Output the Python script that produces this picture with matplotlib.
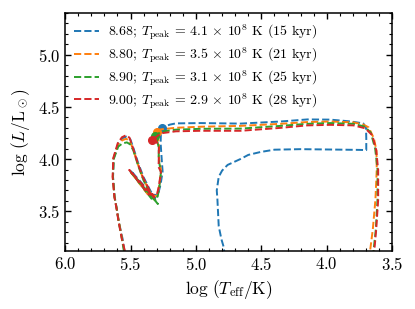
import matplotlib
matplotlib.use("Agg")
import matplotlib.pyplot as plt
from matplotlib.ticker import MultipleLocator

plt.rcParams['font.family'] = 'serif'
plt.rcParams['font.serif'] = ['cmr10']
plt.rcParams['mathtext.fontset'] = 'cm'
plt.rcParams['axes.formatter.use_mathtext'] = True
plt.rcParams['axes.unicode_minus'] = False

# tracks: log Teff, log L
labels = [
    r'8.68; $T_{\rm peak}\,=\,4.1\,\times\,10^8$ K (15 kyr)',
    r'8.80; $T_{\rm peak}\,=\,3.5\,\times\,10^8$ K (21 kyr)',
    r'8.90; $T_{\rm peak}\,=\,3.1\,\times\,10^8$ K (25 kyr)',
    r'9.00; $T_{\rm peak}\,=\,2.9\,\times\,10^8$ K (28 kyr)',
]
colors = ['#1f77b4', '#ff7f0e', '#2ca02c', '#d62728']

# 8.68: loop, upper plateau, drop to 4.1 then back left and down
x_868 = [5.535, 5.560, 5.590, 5.604, 5.622, 5.634, 5.628, 5.594, 5.562, 5.530,
         5.502, 5.478, 5.440, 5.400, 5.350, 5.312, 5.500, 5.350, 5.290, 5.270,
         5.255, 5.262, 5.270, 5.268, 5.261,
         5.200, 5.154, 4.963, 4.659, 4.354, 4.148, 3.973, 3.820, 3.721, 3.700,
         3.698, 3.698, 3.750, 4.000, 4.201, 4.400, 4.506, 4.600, 4.659, 4.758,
         4.800, 4.826, 4.841, 4.836, 4.826, 4.805, 4.788, 4.775]
y_868 = [3.020, 3.230, 3.400, 3.515, 3.640, 3.830, 4.010, 4.150, 4.200, 4.215,
         4.190, 4.105, 3.955, 3.825, 3.700, 3.625, 3.890, 3.650, 3.660, 3.760,
         3.880, 4.000, 4.150, 4.250, 4.301,
         4.330, 4.342, 4.345, 4.340, 4.360, 4.380, 4.378, 4.361, 4.342, 4.300,
         4.200, 4.086, 4.088, 4.092, 4.095, 4.090, 4.068, 4.040, 4.001, 3.944,
         3.890, 3.830, 3.700, 3.612, 3.356, 3.230, 3.157, 3.020]

x_880 = [5.533, 5.564, 5.590, 5.605, 5.623, 5.636, 5.630, 5.596, 5.564, 5.533,
         5.506, 5.482, 5.444, 5.406, 5.355, 5.316, 5.505, 5.355, 5.297, 5.282,
         5.266, 5.284, 5.282, 5.290, 5.301,
         5.268, 5.154, 4.963, 4.659, 4.354, 4.148, 3.973, 3.797, 3.720, 3.680,
         3.640, 3.620, 3.618, 3.628, 3.648, 3.668, 3.676]
y_880 = [3.020, 3.232, 3.403, 3.517, 3.640, 3.830, 4.010, 4.140, 4.180, 4.195,
         4.170, 4.100, 3.950, 3.820, 3.690, 3.610, 3.885, 3.640, 3.650, 3.740,
         3.880, 4.020, 4.130, 4.220, 4.257,
         4.285, 4.300, 4.310, 4.318, 4.338, 4.355, 4.360, 4.352, 4.330, 4.304,
         4.200, 4.080, 3.900, 3.612, 3.327, 3.128, 3.020]

x_890 = [5.538, 5.566, 5.591, 5.605, 5.623, 5.635, 5.629, 5.594, 5.562, 5.528,
         5.502, 5.478, 5.440, 5.402, 5.350, 5.300, 5.291, 5.500, 5.340, 5.293,
         5.280, 5.268, 5.285, 5.284, 5.300, 5.314,
         5.268, 5.154, 4.963, 4.659, 4.354, 4.148, 3.973, 3.797, 3.712, 3.664,
         3.630, 3.612, 3.612, 3.625, 3.642, 3.655]
y_890 = [3.020, 3.232, 3.403, 3.517, 3.640, 3.830, 4.000, 4.120, 4.150, 4.160,
         4.140, 4.080, 3.930, 3.800, 3.670, 3.590, 3.570, 3.880, 3.620, 3.640,
         3.730, 3.870, 4.000, 4.110, 4.190, 4.219,
         4.262, 4.282, 4.290, 4.292, 4.318, 4.338, 4.345, 4.338, 4.312, 4.255,
         4.100, 3.900, 3.612, 3.327, 3.128, 3.020]

x_900 = [5.531, 5.543, 5.566, 5.592, 5.606, 5.624, 5.637, 5.632, 5.598, 5.566,
         5.535, 5.508, 5.484, 5.446, 5.408, 5.357, 5.319, 5.510, 5.360, 5.299,
         5.284, 5.268, 5.286, 5.284, 5.284, 5.306, 5.337,
         5.268, 5.154, 4.963, 4.659, 4.354, 4.148, 3.973, 3.797, 3.706, 3.652,
         3.622, 3.607, 3.607, 3.622, 3.637, 3.645]
y_900 = [3.024, 3.118, 3.232, 3.403, 3.517, 3.640, 3.830, 4.010, 4.152, 4.209,
         4.228, 4.205, 4.117, 3.963, 3.833, 3.707, 3.631, 3.896, 3.659, 3.659,
         3.735, 3.877, 3.925, 4.020, 4.124, 4.181, 4.181,
         4.247, 4.266, 4.271, 4.271, 4.299, 4.323, 4.328, 4.323, 4.295, 4.228,
         4.086, 3.896, 3.612, 3.327, 3.118, 3.024]

# marker = start of the upper plateau
mark_x = [5.261, 5.301, 5.314, 5.337]
mark_y = [4.301, 4.257, 4.219, 4.181]

tracks = [(x_868, y_868), (x_880, y_880), (x_890, y_890), (x_900, y_900)]

fig = plt.figure(figsize=(4.15, 3.09), dpi=100)
ax = fig.add_axes([0.157, 0.188, 0.788, 0.770])

for (tx, ty), c, lab, mx, my in zip(tracks, colors, labels, mark_x, mark_y):
    ax.plot(tx, ty, ls='--', lw=1.4, color=c, label=lab)
    ax.plot(mx, my, 'o', ms=5.5, color=c)

ax.set_xlim(6.0, 3.5)
ax.set_ylim(3.12, 5.4)
ax.xaxis.set_major_locator(MultipleLocator(0.5))
ax.xaxis.set_minor_locator(MultipleLocator(0.1))
ax.yaxis.set_major_locator(MultipleLocator(0.5))
ax.yaxis.set_minor_locator(MultipleLocator(0.1))
ax.tick_params(which='both', direction='in', top=True, right=True, labelsize=12)
ax.tick_params(which='major', length=4.5, width=1.0)
ax.tick_params(which='minor', length=2.5, width=0.8)
for s in ax.spines.values():
    s.set_linewidth(1.1)

ax.set_xlabel(r'$\log\,(T_{\rm eff}/{\rm K})$', fontsize=12.5)
ax.set_ylabel(r'$\log\,(L/{\rm L}_\odot)$', fontsize=12.5)
ax.legend(loc='upper left', frameon=False, fontsize=10, handlelength=1.8,
          handletextpad=0.65, labelspacing=0.22, borderaxespad=0.25)

fig.savefig('out.png', dpi=100)
